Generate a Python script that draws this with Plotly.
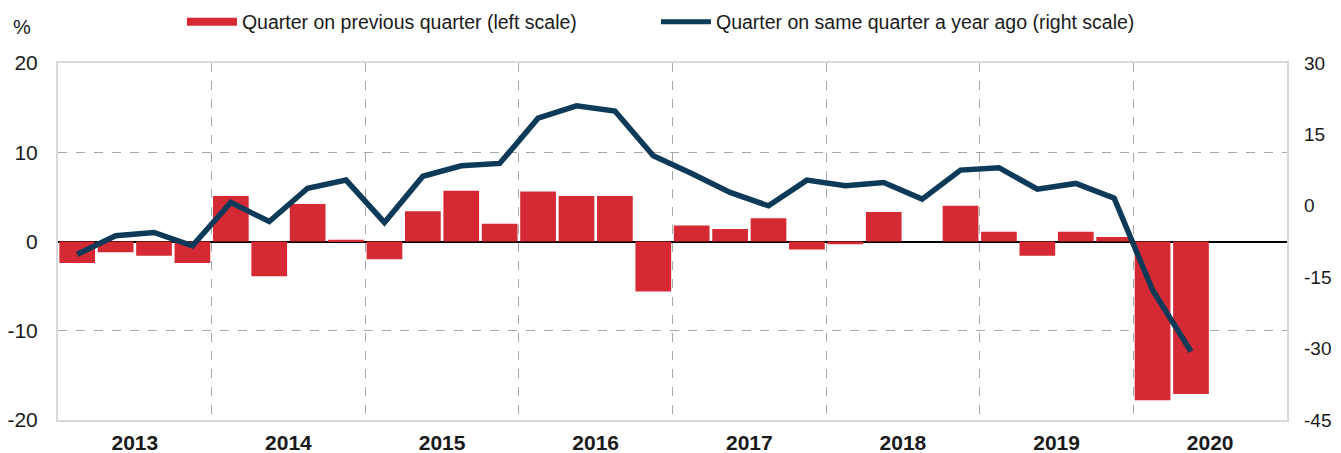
import plotly.graph_objects as go

quarters = [f"{y}Q{q}" for y in range(2013, 2021) for q in range(1, 5)][:30]
qoq = [-2.4, -1.2, -1.6, -2.4,
       5.1, -3.9, 4.2, 0.2,
       -2.0, 3.4, 5.7, 2.0,
       5.6, 5.1, 5.1, -5.6,
       1.8, 1.4, 2.6, -0.9,
       -0.3, 3.3, 0.0, 4.0,
       1.1, -1.6, 1.1, 0.5,
       -17.8, -17.1]
yoy = [-10.2, -6.3, -5.6, -8.4,
       0.7, -3.3, 3.7, 5.4,
       -3.5, 6.2, 8.4, 8.9,
       18.4, 21.0, 19.9, 10.5,
       6.8, 2.8, 0.0, 5.4,
       4.2, 4.9, 1.4, 7.5,
       8.0, 3.5, 4.7, 1.6,
       -17.7, -30.6]
year_labels = [str(y) for y in range(2013, 2021)]
left_ticks = [-20, -10, 0, 10, 20]
right_ticks = [-45, -30, -15, 0, 15, 30]

x_pos = [int(s[:4]) + (int(s[-1]) - 0.5) / 4 for s in quarters]

RED = "#d52a33"
NAVY = "#0c3a58"
FONT = "Liberation Sans Narrow, Arial Narrow, Liberation Sans, Arial"
TXT = "#1a1a1a"
GRID = "#a8a8a8"
FRAME = "#d9d9d9"

fig = go.Figure()
fig.add_trace(go.Bar(x=x_pos, y=qoq, marker=dict(color=RED, line=dict(width=0)),
                     showlegend=False, yaxis="y"))
fig.add_trace(go.Scatter(x=x_pos, y=yoy, mode="lines", line=dict(color=NAVY, width=5.5),
                         showlegend=False, yaxis="y2"))
# legend entries
fig.add_trace(go.Scatter(x=[None], y=[None], mode="lines", line=dict(color=RED, width=8),
                         name="Quarter on previous quarter (left scale)", legend="legend"))
fig.add_trace(go.Scatter(x=[None], y=[None], mode="lines", line=dict(color=NAVY, width=5),
                         name="Quarter on same quarter a year ago (right scale)", yaxis="y2",
                         legend="legend2"))

legend_common = dict(orientation="h", xref="container", yref="container",
                     y=0.9685, xanchor="left", yanchor="middle",
                     font=dict(size=19.5, family=FONT, color=TXT),
                     itemwidth=50, bgcolor="rgba(0,0,0,0)")

fig.update_layout(
    width=1333, height=445,
    margin=dict(l=50, r=54, t=55, b=33, autoexpand=False),
    paper_bgcolor="white", plot_bgcolor="white",
    bargap=0.07,
    font=dict(family=FONT, color=TXT, size=20),
    legend=dict(x=0.1305, **legend_common),
    legend2=dict(x=0.4861, **legend_common),
    xaxis=dict(range=[2013, 2021], tickvals=[int(y) + 0.5 for y in year_labels],
               ticktext=year_labels, showgrid=False, ticks="", automargin=False,
               tickfont=dict(size=21, family=FONT, weight="bold", color=TXT),
               showline=True, linecolor=FRAME, linewidth=2, mirror=True,
               ticklabelstandoff=3, zeroline=False,
               minor=dict(tickmode="array", tickvals=[int(y) for y in year_labels[1:]],
                          showgrid=True, gridcolor=GRID, griddash="dash", gridwidth=1,
                          ticks="")),
    yaxis=dict(range=[-20, 20], tickvals=left_ticks, ticktext=[str(v) for v in left_ticks],
               showgrid=True, gridcolor=GRID,
               griddash="dash", gridwidth=1, zeroline=True, zerolinecolor="black",
               zerolinewidth=2, showline=True, linecolor=FRAME, linewidth=2, mirror=True,
               ticks="", tickfont=dict(size=21, family=FONT, color=TXT), automargin=False,
               ticklabelstandoff=14, layer="above traces"),
    yaxis2=dict(range=[-45, 30], tickvals=right_ticks, ticktext=[str(v) for v in right_ticks],
                overlaying="y", side="right",
                showgrid=False, zeroline=False, showline=False, ticks="", automargin=False,
                tickfont=dict(size=19, family=FONT, color=TXT), ticklabelstandoff=16),
    annotations=[dict(text="%", xref="paper", yref="paper", x=-0.0293, y=1.10,
                      xanchor="center", yanchor="middle", showarrow=False,
                      font=dict(size=20, family=FONT, color=TXT))],
)

fig.write_html("out.html")
